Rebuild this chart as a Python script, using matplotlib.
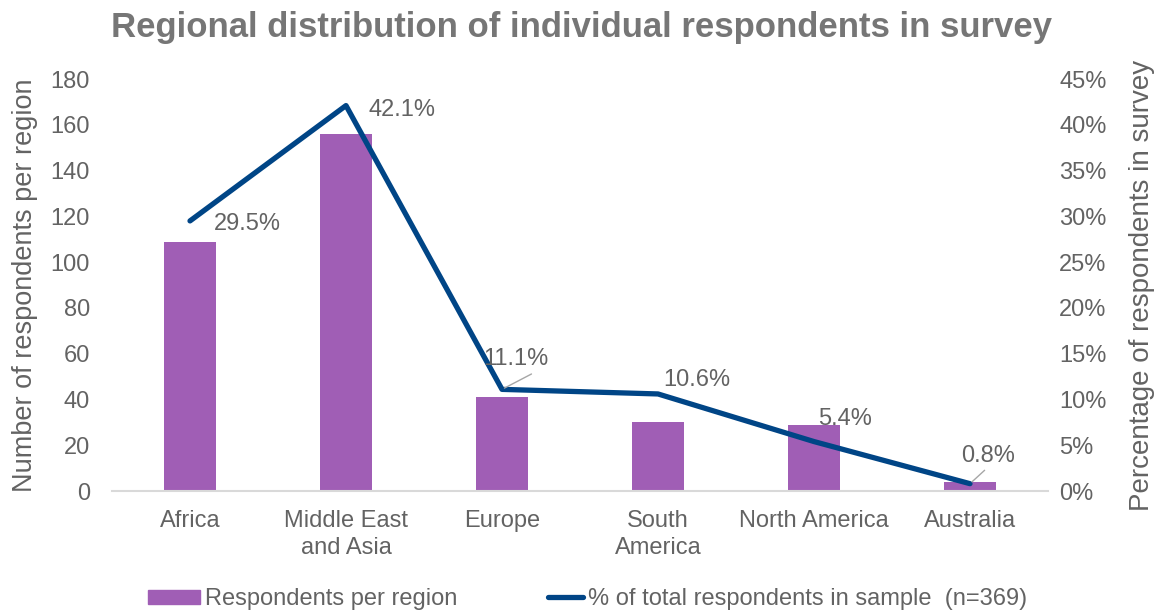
import matplotlib
matplotlib.use("Agg")
import matplotlib.pyplot as plt
from matplotlib.lines import Line2D
from matplotlib.patches import Patch

plt.rcParams['font.family'] = ['Liberation Sans', 'DejaVu Sans']

categories = ["Africa", "Middle East\nand Asia", "Europe", "South\nAmerica", "North America", "Australia"]
respondents = [109, 156, 41, 30, 29, 4]
percent = [29.5, 42.1, 11.1, 10.6, 5.4, 0.8]
pct_labels = ["29.5%", "42.1%", "11.1%", "10.6%", "5.4%", "0.8%"]

TXT = "#636363"
TITLE = "#767676"
BAR = "#A05EB5"
LINE = "#004586"
FS = 17

fig = plt.figure(figsize=(11.64, 6.12), dpi=100)
ax = fig.add_axes([112/1164, 1-491/612, (1048-112)/1164, (491-79)/612])
ax2 = ax.twinx()

x = list(range(len(categories)))
ax.bar(x, respondents, width=0.33, color=BAR, zorder=2)
ax.set_xlim(-0.5, len(categories)-0.5)
ax.set_ylim(0, 180)
ax.set_yticks(range(0, 181, 20))
ax2.set_ylim(0, 45)
ax2.set_yticks(range(0, 46, 5))
ax2.set_yticklabels([f"{v}%" for v in range(0, 46, 5)])

ax2.plot(x, percent, color=LINE, lw=3.8, solid_capstyle='round', zorder=3)

for a in (ax, ax2):
    for s in a.spines.values():
        s.set_visible(False)
    a.tick_params(length=0, labelsize=FS, colors=TXT)
ax.spines['bottom'].set_visible(True)
ax.spines['bottom'].set_color('#D9D9D9')
ax.spines['bottom'].set_linewidth(1.5)
ax.set_xticks(x)
ax.set_xticklabels(categories, fontsize=FS, color=TXT, linespacing=1.25)
ax.tick_params(axis='x', pad=14)
ax.tick_params(axis='y', pad=16)
ax2.tick_params(axis='y', pad=8)

ax.set_ylabel("Number of respondents per region", fontsize=19.5, color=TXT, labelpad=9)
ax2.set_ylabel("Percentage of respondents in survey", fontsize=20, color=TXT, labelpad=16)

# data labels (offsets in points)
offsets = [(41, -2), (40, -3), (10, 22), (28, 10), (22, 16), (13, 20)]
for i, (p, lab) in enumerate(zip(percent, pct_labels)):
    dx, dy = offsets[i]
    ax2.annotate(lab, (i, p), xytext=(dx, dy), textcoords='offset points',
                 ha='center', va='center', fontsize=FS, color=TXT, zorder=4)
# leader lines for Europe and Australia
for i, (dx, dy) in [(2, (23, 12)), (5, (12, 11))]:
    ax2.annotate("", (i, percent[i]), xytext=(dx, dy), textcoords='offset points',
                 arrowprops=dict(arrowstyle='-', color='#A6A6A6', lw=1))

fig.suptitle("Regional distribution of individual respondents in survey",
             x=0.5, y=1-28/612, va='center', fontsize=25, fontweight='bold', color=TITLE)

leg1 = fig.legend([Patch(color=BAR)], ["Respondents per region"], loc='center left',
                  bbox_to_anchor=(148/1164, 1-599/612), frameon=False, fontsize=FS,
                  labelcolor=TXT, handlelength=2.2, handleheight=0.55, handletextpad=0.2,
                  borderpad=0, borderaxespad=0)
leg2 = fig.legend([Line2D([0], [0], color=LINE, lw=3.8, solid_capstyle='round')],
                  ["% of total respondents in sample  (n=369)"], loc='center left',
                  bbox_to_anchor=(548/1164, 1-599/612), frameon=False, fontsize=FS,
                  labelcolor=TXT, handlelength=1.5, handletextpad=0.2,
                  borderpad=0, borderaxespad=0)

fig.savefig("out.png", dpi=100)
